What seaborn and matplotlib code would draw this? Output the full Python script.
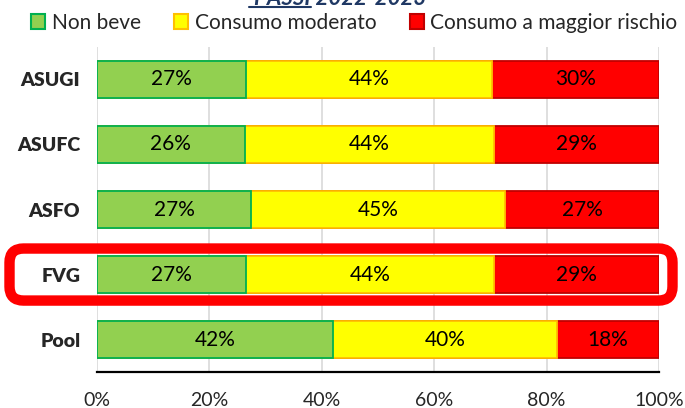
import numpy as np
import pandas as pd
import seaborn as sns
from matplotlib import pyplot as plt
from matplotlib.patches import FancyBboxPatch, Patch
from matplotlib.lines import Line2D

# data
regions = ['ASUGI', 'ASUFC', 'ASFO', 'FVG', 'Pool']
non_beve = [26.6, 26.3, 27.4, 26.6, 42.0]
moderato = [43.6, 44.3, 45.2, 44.0, 39.8]
rischio = [29.8, 29.4, 27.4, 29.4, 18.2]
series_names = ['Non beve', 'Consumo moderato', 'Consumo a maggior rischio']
x_ticks = [0, 20, 40, 60, 80, 100]
highlight = 'FVG'

fills = ['#92D050', '#FFFF00', '#FF0000']
edges = ['#00B050', '#FFC000', '#C00000']

sns.set_style('white')
plt.rcParams['font.family'] = ['Lato', 'DejaVu Sans']

df = pd.DataFrame({'region': regions, series_names[0]: non_beve,
                   series_names[1]: moderato, series_names[2]: rischio})
cum = df[series_names].cumsum(axis=1)

fig = plt.figure(figsize=(6.85, 4.08), dpi=100)
ax = fig.add_axes([0.1416, 0.088, 0.8204, 0.797])

# stacked bars: draw cumulative totals from the longest to the shortest
for i in [2, 1, 0]:
    sns.barplot(x=cum[series_names[i]], y=df['region'], orient='h', ax=ax,
                color=fills[i], edgecolor=edges[i], linewidth=1.3,
                width=0.57, saturation=1, zorder=2)

# segment labels
for i, name in enumerate(series_names):
    starts = cum[name] - df[name]
    for j, val in enumerate(df[name]):
        ax.text(starts[j] + val / 2, j, f'{val:.0f}%', ha='center', va='center',
                fontsize=15, color='black', zorder=3)

ax.set_xlim(0, 100)
ax.set_ylim(len(regions) - 0.5, -0.5)
ax.set_xticks(x_ticks)
ax.set_xticklabels([f'{t}%' for t in x_ticks], fontsize=14)
ax.tick_params(axis='x', length=0, pad=14)
ax.tick_params(axis='y', length=0, pad=12)
for lab in ax.get_yticklabels():
    lab.set_fontweight('heavy')
    lab.set_fontsize(14)
ax.set_xlabel('')
ax.set_ylabel('')
ax.grid(axis='x', color='#D9D9D9', linewidth=1.2, zorder=0)
ax.set_axisbelow(True)
for s in ['top', 'right', 'left']:
    ax.spines[s].set_visible(False)
ax.spines['bottom'].set_color('black')
ax.spines['bottom'].set_linewidth(1.6)

# legend
handles = [Patch(facecolor=fills[i], edgecolor=edges[i], linewidth=1.5, label=series_names[i])
           for i in range(3)]
fig.legend(handles=handles, loc='center', bbox_to_anchor=(0.517, 0.944), ncol=3,
           frameon=False, fontsize=15, handlelength=0.7, handleheight=0.7,
           handletextpad=0.3, columnspacing=1.6, borderaxespad=0)

# clipped title at the top
fig.text(0.497, 0.988, 'PASSI 2022-2023', ha='center', va='baseline', fontsize=16,
         fontweight='bold', fontstyle='italic', color='#1F3864')
fig.add_artist(Line2D([0.363, 0.454], [0.982, 0.982], color='#1F3864', linewidth=1.5))

# red rounded box around the FVG row
fig.canvas.draw()
k = regions.index(highlight)
y_top = ax.transData.transform((0, k - 0.40))[1]
y_bot = ax.transData.transform((0, k + 0.40))[1]
box = FancyBboxPatch((9.5, y_bot), 663, y_top - y_bot, boxstyle='round,pad=0,rounding_size=14',
                     transform=None, fill=False, edgecolor='#FF0000', linewidth=7.5, zorder=5)
fig.add_artist(box)

fig.savefig('out.png', dpi=100)
